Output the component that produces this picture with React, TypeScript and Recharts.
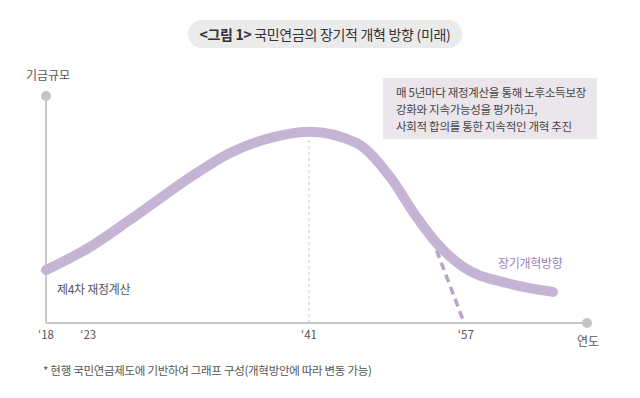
import { ComposedChart, Line, XAxis, YAxis, ReferenceLine, ReferenceDot } from "recharts"

// ── Data (x: timeline position 0–100, v: relative fund size 0–100) ──
const CURVE_T = [0, 7.8, 15.5, 27.8, 34, 40.1, 48.8, 57.4, 63.6, 68.5, 72.2, 77.1, 85.2, 93.7]
const CURVE_V = [23.3, 33, 45.4, 66, 74.9, 80.6, 84.3, 79.3, 64.3, 46.7, 35.2, 24.7, 17.6, 13.7]
const DEPLETION_T = [72.2, 77.3]
const DEPLETION_V = [32, 0]
const TICK_POS = [0, 7.8, 48.6, 77.6]
const TICK_LABELS = ["‘18", "‘23", "‘41", "‘57"]
const PEAK_T = 48.6
const PEAK_V = 84.3

const curve = CURVE_T.map((t, i) => ({ t, v: CURVE_V[i] }))
const depletion = DEPLETION_T.map((t, i) => ({ t, v: DEPLETION_V[i] }))

// ── Colors ──
const COLORS = {
  line: "#c5b4d4",
  dash: "#b9a5cc",
  axis: "#c8c8c8",
  text: "#555555",
  purpleText: "#9b82b6",
  noteBg: "#ebe6ec",
  titleBg: "#ebebeb",
}

const FONT = "'Noto Sans CJK KR', 'Noto Sans', sans-serif"

export default function App() {
  const tickFmt = (val: number) => {
    const i = TICK_POS.indexOf(val)
    return i >= 0 ? TICK_LABELS[i] : ""
  }

  return (
    <div style={{ position: "absolute", left: 0, top: 0, width: 640, height: 398, background: "#fff", fontFamily: FONT, color: COLORS.text }}>
      {/* title pill */}
      <div style={{
        position: "absolute", left: 188, top: 20, width: 274, height: 28, borderRadius: 14,
        background: COLORS.titleBg, display: "flex", alignItems: "center", justifyContent: "center",
        fontSize: 14, color: "#333", letterSpacing: -0.3,
      }}>
        <span style={{ fontWeight: 700 }}>&lt;그림 1&gt;</span>&nbsp;국민연금의 장기적 개혁 방향 (미래)
      </div>

      <div style={{ position: "absolute", left: 26, top: 66, fontSize: 12 }}>기금규모</div>
      <div style={{ position: "absolute", left: 577, top: 332, fontSize: 12 }}>연도</div>

      {/* note box */}
      <div style={{
        position: "absolute", left: 383, top: 78, width: 214, height: 61, background: COLORS.noteBg,
        fontSize: 11.5, lineHeight: "17px", color: "#444", padding: "6px 0 0 13px", boxSizing: "border-box",
        letterSpacing: -0.3,
      }}>
        매 5년마다 재정계산을 통해 노후소득보장<br />
        강화와 지속가능성을 평가하고,<br />
        사회적 합의를 통한 지속적인 개혁 추진
      </div>

      <div style={{ position: "absolute", left: 57, top: 280, fontSize: 12, letterSpacing: -0.3 }}>제4차 재정계산</div>
      <div style={{ position: "absolute", left: 498, top: 254, fontSize: 12, color: COLORS.purpleText, letterSpacing: -0.3 }}>장기개혁방향</div>

      <div style={{ position: "absolute", left: 43, top: 362, fontSize: 11.5, letterSpacing: -0.3 }}>
        * 현행 국민연금제도에 기반하여 그래프 구성(개혁방안에 따라 변동 가능)
      </div>

      <div style={{ position: "absolute", left: 0, top: 0 }}>
        <ComposedChart width={640} height={398} margin={{ top: 96, right: 53, bottom: 45, left: 46 }}>
          <XAxis
            dataKey="t"
            type="number"
            domain={[0, 100]}
            ticks={TICK_POS}
            tickFormatter={tickFmt}
            axisLine={{ stroke: COLORS.axis, strokeWidth: 2 }}
            tickLine={false}
            tick={{ fontSize: 11.5, fill: COLORS.text, fontFamily: FONT }}
            height={30}
            allowDuplicatedCategory={false}
          />
          <YAxis type="number" domain={[0, 100]} width={0} hide />
          <ReferenceLine x={0} stroke={COLORS.axis} strokeWidth={2} ifOverflow="visible" />
          <ReferenceLine
            segment={[{ x: PEAK_T, y: 0 }, { x: PEAK_T, y: PEAK_V }]}
            stroke="#c8c8c8"
            strokeDasharray="3 3"
          />
          <Line
            data={depletion}
            dataKey="v"
            type="linear"
            stroke={COLORS.dash}
            strokeWidth={3.5}
            strokeDasharray="8 5"
            dot={false}
            isAnimationActive={false}
          />
          <Line
            data={curve}
            dataKey="v"
            type="monotone"
            stroke={COLORS.line}
            strokeWidth={10}
            strokeLinecap="round"
            dot={false}
            isAnimationActive={false}
          />
          <ReferenceDot x={0} y={100} r={5} fill="#c4c4c4" stroke="none" ifOverflow="visible" />
          <ReferenceDot x={100} y={0} r={5} fill="#c4c4c4" stroke="none" ifOverflow="visible" />
        </ComposedChart>
      </div>
    </div>
  )
}
